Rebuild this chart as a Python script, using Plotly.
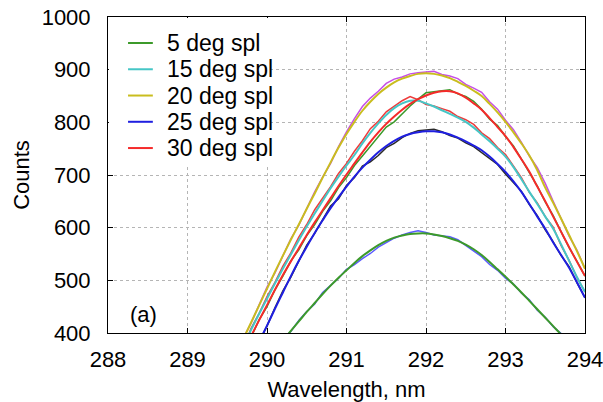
import plotly.graph_objects as go

# Wavelength grid (nm)
wavelength = [289.6, 289.7, 289.8, 289.9, 290.0, 290.1, 290.2, 290.3, 290.4, 290.5,
              290.6, 290.7, 290.8, 290.9, 291.0, 291.1, 291.2, 291.3, 291.4, 291.5,
              291.6, 291.7, 291.8, 291.9, 292.0, 292.1, 292.2, 292.3, 292.4, 292.5,
              292.6, 292.7, 292.8, 292.9, 293.0, 293.1, 293.2, 293.3, 293.4, 293.5,
              293.6, 293.7, 293.8, 293.9, 294.0]

# Smoothed (spline) spectra
spl_5 = [280, 298, 316, 333, 350, 368, 386, 404, 422, 440, 457, 474, 490, 505, 519, 533, 546, 557, 567, 575,
         581, 585, 588, 589, 589, 587, 584, 580, 575, 568, 559, 548, 535, 521, 507, 492, 477, 461, 445, 429,
         413, 397, 380, 362, 344]
spl_15 = [340, 373, 406, 436, 465, 494, 522, 549, 576, 602, 627, 651, 675, 697, 718, 738, 760, 780, 798, 814,
          827, 836, 841, 841, 836, 830, 823, 816, 809, 801, 790, 777, 764, 750, 735, 715, 692, 668, 645, 621,
          598, 568, 537, 506, 478]
spl_20 = [355, 388, 420, 452, 484, 516, 547, 577, 606, 636, 665, 695, 724, 752, 778, 801, 822, 839, 854, 866,
          876, 883, 888, 892, 893, 892, 889, 884, 877, 869, 860, 850, 835, 819, 801, 781, 760, 737, 709, 676,
          647, 617, 586, 555, 522]
spl_25 = [285, 318, 351, 383, 414, 446, 477, 508, 537, 564, 590, 614, 637, 658, 678, 697, 714, 729, 743, 755,
          765, 773, 778, 781, 783, 783, 781, 777, 771, 764, 756, 747, 735, 721, 706, 688, 668, 645, 621, 598,
          572, 548, 524, 496, 467]
spl_30 = [330, 362, 394, 424, 453, 482, 510, 536, 561, 586, 610, 633, 656, 679, 701, 722, 743, 763, 781, 797,
          811, 824, 835, 844, 851, 856, 859, 859, 855, 847, 836, 824, 808, 791, 774, 753, 730, 706, 678, 650,
          621, 592, 563, 535, 508]

# Raw (measured) spectra
raw_5 = [281, 297, 318, 333, 348, 369, 389, 403, 424, 441, 455, 477, 491, 504, 521, 530, 541, 551, 563, 572,
         580, 586, 591, 594, 591, 586, 585, 583, 577, 566, 555, 545, 530, 519, 504, 493, 476, 463, 443, 430,
         412, 399, 380, 361, 344]
raw_15 = [342, 372, 409, 437, 469, 496, 527, 552, 582, 606, 634, 656, 678, 703, 722, 745, 765, 788, 802, 820,
          830, 841, 849, 843, 834, 831, 826, 821, 811, 805, 796, 780, 769, 752, 739, 716, 695, 667, 647, 621,
          601, 566, 538, 505, 478]
raw_20 = [355, 390, 419, 453, 487, 514, 548, 579, 605, 638, 668, 696, 722, 754, 782, 807, 830, 846, 859, 874,
          882, 886, 892, 894, 896, 897, 891, 888, 883, 872, 865, 857, 839, 825, 804, 786, 762, 736, 714, 684,
          650, 618, 584, 557, 522]
raw_25 = [286, 316, 353, 383, 413, 448, 480, 506, 538, 567, 589, 616, 641, 655, 680, 695, 717, 725, 737, 752,
          760, 771, 779, 784, 785, 787, 782, 775, 770, 761, 754, 743, 732, 720, 702, 686, 669, 644, 623, 596,
          573, 547, 526, 495, 467]
raw_30 = [329, 364, 392, 425, 450, 482, 508, 537, 558, 585, 606, 631, 651, 676, 695, 718, 736, 754, 773, 791,
          801, 817, 831, 844, 856, 858, 860, 862, 854, 849, 840, 825, 806, 794, 773, 755, 730, 704, 679, 649,
          623, 592, 562, 536, 508]

spl_names = ["5 deg spl", "15 deg spl", "20 deg spl", "25 deg spl", "30 deg spl"]
spl_series = [spl_5, spl_15, spl_20, spl_25, spl_30]
spl_colors = ["#3c9a2a", "#45c6c6", "#c9bd1e", "#1f1fe0", "#f52a2a"]

raw_series = [raw_5, raw_15, raw_20, raw_25, raw_30]
raw_colors = ["#5a5aff", "#ee3b3b", "#c64ee6", "#2a2a2a", "#3a9a2a"]

x_ticks = [288, 289, 290, 291, 292, 293, 294]
y_ticks = [400, 500, 600, 700, 800, 900, 1000]

FONT = "Liberation Sans, Arial, sans-serif"

fig = go.Figure()

for ys, col in zip(raw_series, raw_colors):
    fig.add_trace(go.Scatter(x=wavelength, y=ys, mode="lines", showlegend=False,
                             hoverinfo="skip", line=dict(color=col, width=1.5)))

for name, ys, col in zip(spl_names, spl_series, spl_colors):
    fig.add_trace(go.Scatter(x=wavelength, y=ys, mode="lines", name=name, showlegend=False,
                             line=dict(color=col, width=2, shape="spline")))

axis_common = dict(showline=True, linecolor="black", linewidth=1, mirror="ticks",
                   ticks="inside", ticklen=5, tickcolor="black", ticklabeloverflow="allow",
                   showgrid=True, gridcolor="#b5b5b5", gridwidth=1, griddash="3px,3px",
                   zeroline=False, tickfont=dict(family=FONT, size=22, color="black"))

# Legend drawn as a white panel with line samples and labels (compact row spacing)
shapes = [dict(type="rect", xref="paper", yref="paper", x0=0.002, x1=0.342, y0=0.532, y1=0.997,
               fillcolor="white", line=dict(width=0), layer="above")]
annotations = []
row_top = 0.9177
row_step = 0.0831
for i, (name, col) in enumerate(zip(spl_names, spl_colors)):
    yy = row_top - i * row_step
    shapes.append(dict(type="line", xref="paper", yref="paper", x0=0.042, x1=0.094,
                       y0=yy, y1=yy, line=dict(color=col, width=2), layer="above"))
    annotations.append(dict(text=name, x=0.1195, y=yy, xref="paper", yref="paper",
                            xanchor="left", yanchor="middle", showarrow=False,
                            font=dict(family=FONT, size=23, color="black")))

annotations.append(dict(text="(a)", x=0.042, y=0.057, xref="paper", yref="paper",
                        xanchor="left", yanchor="middle", showarrow=False,
                        font=dict(family=FONT, size=22, color="black")))

fig.update_layout(
    width=603, height=402,
    margin=dict(l=108, r=18, t=17, b=69, autoexpand=False),
    paper_bgcolor="white", plot_bgcolor="white",
    font=dict(family=FONT, size=22, color="black"),
    showlegend=False,
    xaxis=dict(range=[288, 294], tickvals=x_ticks, ticktext=[str(v) for v in x_ticks],
               title=dict(text="Wavelength, nm", font=dict(family=FONT, size=22), standoff=13),
               ticklabelstandoff=7, **axis_common),
    yaxis=dict(range=[400, 1000], tickvals=y_ticks, ticktext=[str(v) for v in y_ticks],
               title=dict(text="Counts", font=dict(family=FONT, size=22), standoff=5),
               ticklabelstandoff=12, **axis_common),
    shapes=shapes,
    annotations=annotations,
)

fig.write_html("out.html", config={"displayModeBar": False},
               post_script="document.body.style.margin='0';document.body.style.padding='0';")
